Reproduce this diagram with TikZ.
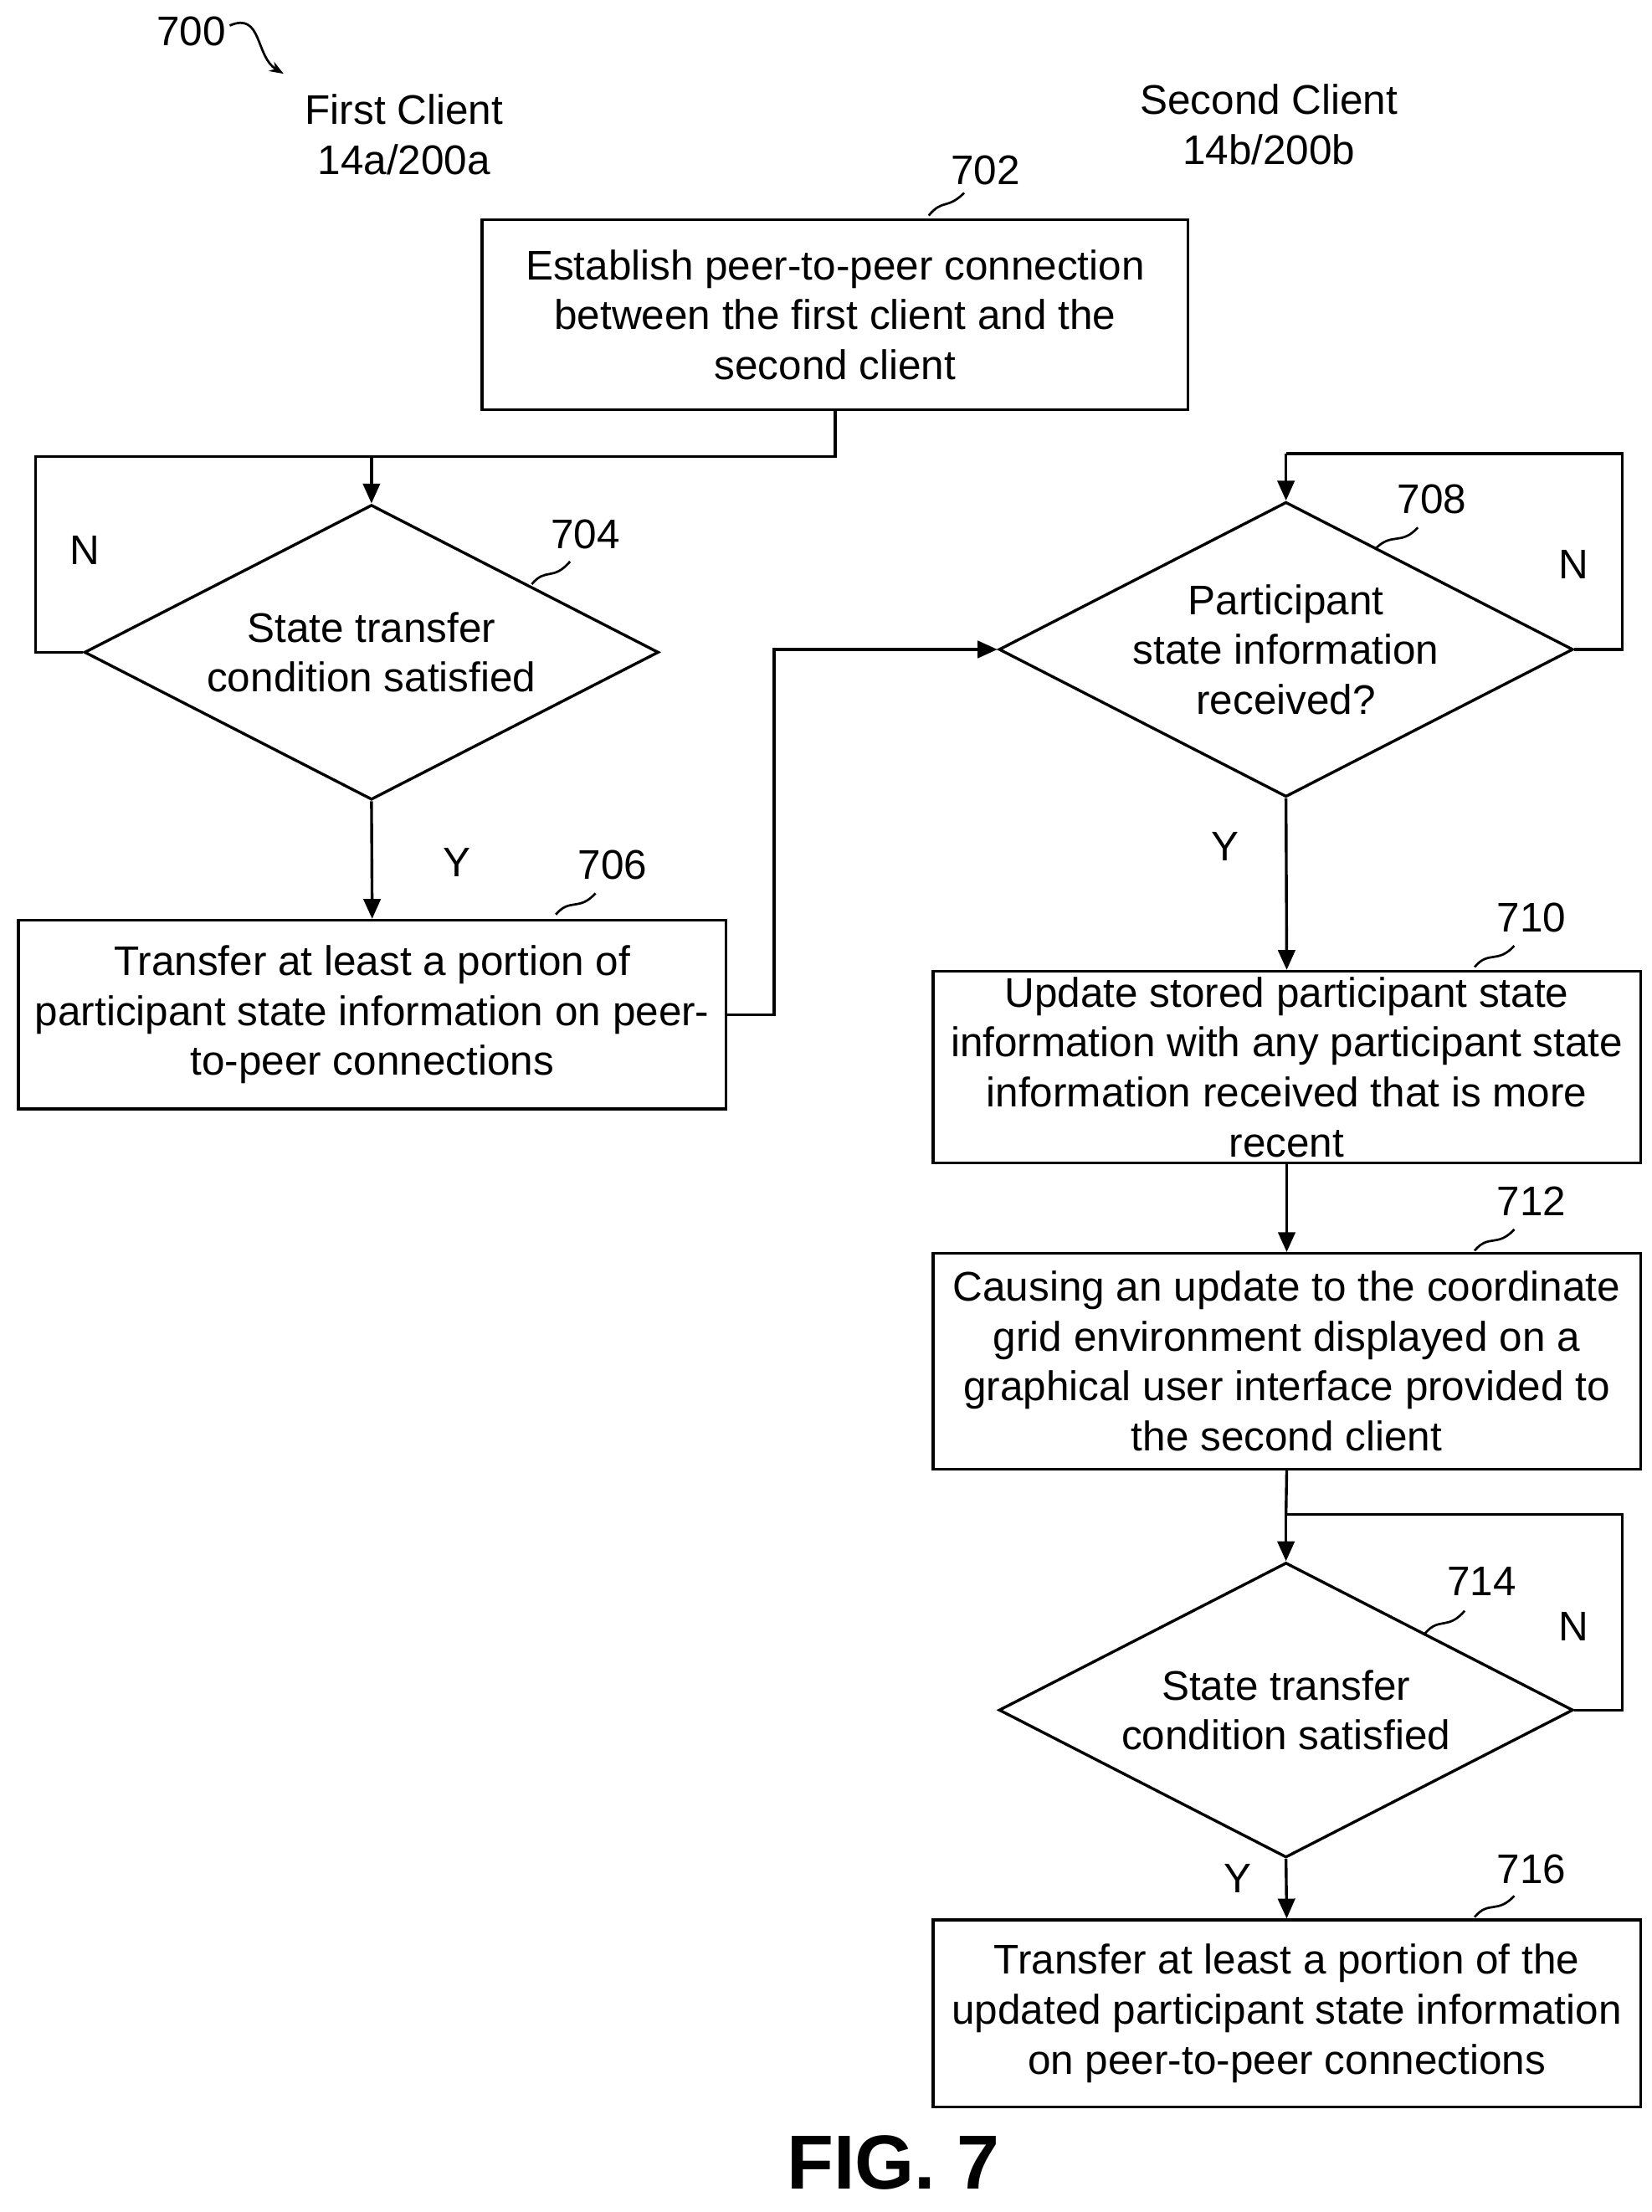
\documentclass[tikz,border=0pt]{standalone}
\usepackage{fontspec}
\setmainfont{Liberation Sans}
\usetikzlibrary{shapes.geometric,arrows.meta}
\begin{document}
\begin{tikzpicture}[x=0.5pt,y=-0.5pt,line width=1pt,
  every node/.style={font=\fontsize{14.6}{17.6}\selectfont},
  box/.style={draw,rectangle,inner sep=0pt,align=center},
  dia/.style={draw,diamond,inner sep=0pt,minimum width=202.5pt,minimum height=104pt},
  txt/.style={align=center},
  arr/.style={-{Triangle[length=7pt,width=6pt]}},
  sq/.style={line width=0.8pt}]
\useasboundingbox (0,0) rectangle (1165,1560);
\node (l700) at (135,22) {700};
\coordinate (c700a) at (162,18);
\coordinate (c700b) at (200,52);
\draw[sq,-{Stealth[length=5pt]}] (c700a) .. controls (185,8) and (180,40) .. (c700b);
\node[txt] (fc) at (285,95) {First Client\\14a/200a};
\node[txt] (sc) at (895,88) {Second Client\\14b/200b};

\node[box,minimum width=249pt,minimum height=67pt] (b702) at (589,222) {Establish peer-to-peer connection\\between the first client and the\\second client};
\node (l702) at (695,120) {702};
\draw[sq] (655,152) .. controls (665,140) and (668,148) .. (680,136);

\node[dia] (d704) at (262,460) {};
\node[txt] at (d704) {State transfer\\condition satisfied};
\node (l704) at (413,377) {704};
\draw[sq] (375,412) .. controls (385,400) and (390,410) .. (402,396);
\node (n704) at (60,388) {N};
\node (y704) at (322,608) {Y};

\node[box,minimum width=249.5pt,minimum height=66.5pt] (b706) at (262.5,715.5) {Transfer at least a portion of\\participant state information on peer-\\to-peer connections};
\node (l706) at (432,610) {706};
\draw[sq] (392,645) .. controls (402,633) and (408,643) .. (420,630);

\node[dia] (d708) at (907,458) {};
\node[txt] at (d708) {Participant\\state information\\received?};
\node (l708) at (1010,352) {708};
\draw[sq] (970,387) .. controls (982,375) and (988,385) .. (1000,372);
\node (n708) at (1110,398) {N};
\node (y708) at (864,597) {Y};

\node[box,minimum width=249.5pt,minimum height=67.5pt] (b710) at (907.5,752.5) {Update stored participant state\\information with any participant state\\information received that is more\\recent};
\node (l710) at (1080,647) {710};
\draw[sq] (1040,682) .. controls (1050,670) and (1056,680) .. (1068,667);

\node[box,minimum width=249.5pt,minimum height=76pt] (b712) at (907.5,960) {Causing an update to the coordinate\\grid environment displayed on a\\graphical user interface provided to\\the second client};
\node (l712) at (1080,847) {712};
\draw[sq] (1040,882) .. controls (1050,870) and (1056,880) .. (1068,867);

\node[dia] (d714) at (907,1206) {};
\node[txt] at (d714) {State transfer\\condition satisfied};
\node (l714) at (1045,1115) {714};
\draw[sq] (1005,1152) .. controls (1015,1140) and (1021,1150) .. (1033,1136);
\node (n714) at (1110,1147) {N};
\node (y714) at (873,1325) {Y};

\node[box,minimum width=249.5pt,minimum height=66pt] (b716) at (907.5,1420) {Transfer at least a portion of the\\updated participant state information\\on peer-to-peer connections};
\node (l716) at (1080,1318) {716};
\draw[sq] (1040,1352) .. controls (1050,1340) and (1056,1350) .. (1068,1337);

\node[font=\fontsize{27}{30}\selectfont\bfseries] (fig) at (630,1525) {FIG. 7};

% connectors
\coordinate (j1) at (262,322);
\draw (b702.south) |- (j1);
\draw[arr] (j1) -- (d704.north);
\draw (d704.west) -- (25,460) |- (j1);
\draw[arr] (d704.south) -- (b706.north);
\draw[arr] (b706.east) -- (546,715.5) |- (d708.west);
\coordinate (j2) at (907,320);
\draw (d708.east) -- (1144,458) |- (j2);
\draw[arr] (j2) -- (d708.north);
\draw[arr] (d708.south) -- (b710.north);
\draw[arr] (b710.south) -- (b712.north);
\coordinate (j3) at (907,1068);
\draw (b712.south) -- (j3);
\draw[arr] (j3) -- (d714.north);
\draw (d714.east) -- (1144,1206) |- (j3);
\draw[arr] (d714.south) -- (b716.north);
\end{tikzpicture}
\end{document}
